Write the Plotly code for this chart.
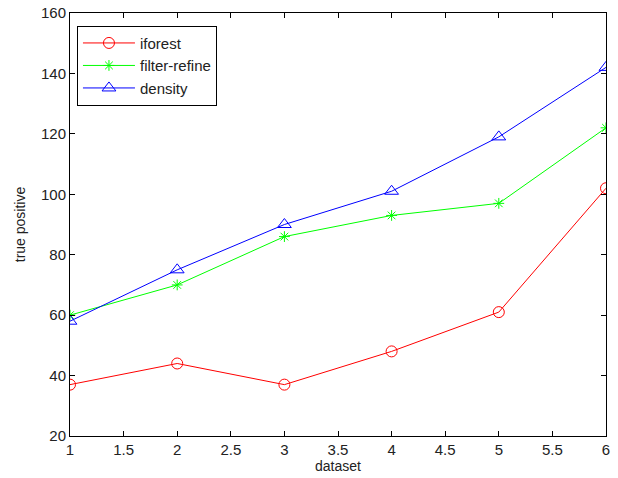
import plotly.graph_objects as go

datasets = [1, 2, 3, 4, 5, 6]
iforest = [37, 44, 37, 48, 61, 102]
filter_refine = [60, 70, 86, 93, 97, 122]
density = [58, 75, 90, 101, 119, 142]

fig = go.Figure()
fig.add_trace(go.Scatter(x=datasets, y=iforest, mode="lines+markers", name="iforest",
                         line=dict(color="#ff0000", width=1),
                         marker=dict(symbol="circle-open", size=11, color="#ff0000", line=dict(width=1))))
fig.add_trace(go.Scatter(x=datasets, y=filter_refine, mode="lines+markers", name="filter-refine",
                         line=dict(color="#00ff00", width=1),
                         marker=dict(symbol="asterisk-open", size=9, color="#00ff00", line=dict(width=1, color="#00ff00"))))
fig.add_trace(go.Scatter(x=datasets, y=density, mode="lines+markers", name="density",
                         line=dict(color="#0000ff", width=1),
                         marker=dict(symbol="triangle-up-open", size=12, color="#0000ff", line=dict(width=1))))

font_family = "Liberation Sans, Arial"
axis_common = dict(showgrid=False, zeroline=False, showline=True, linecolor="black", linewidth=1,
                   mirror="ticks", ticks="inside", ticklen=5, tickcolor="black", automargin=False,
                   tickfont=dict(family=font_family, size=15, color="#222"))
fig.update_xaxes(range=[1, 6], dtick=0.5, title=dict(text="dataset", standoff=4,
                 font=dict(family=font_family, size=14, color="#222")), **axis_common)
fig.update_yaxes(range=[20, 160], dtick=20, title=dict(text="true positive", standoff=12,
                 font=dict(family=font_family, size=14, color="#222")), **axis_common)

fig.update_layout(
    width=618, height=478,
    margin=dict(l=70, r=12, t=13, b=42, autoexpand=False),
    plot_bgcolor="white", paper_bgcolor="white",
    legend=dict(x=0.013, y=0.97, xanchor="left", yanchor="top",
                bgcolor="white", bordercolor="black", borderwidth=1,
                font=dict(family=font_family, size=15, color="#222"),
                tracegroupgap=0, itemwidth=52),
)
fig.write_html("out.html", config={"displayModeBar": False},
               post_script="document.body.style.margin='0';")
